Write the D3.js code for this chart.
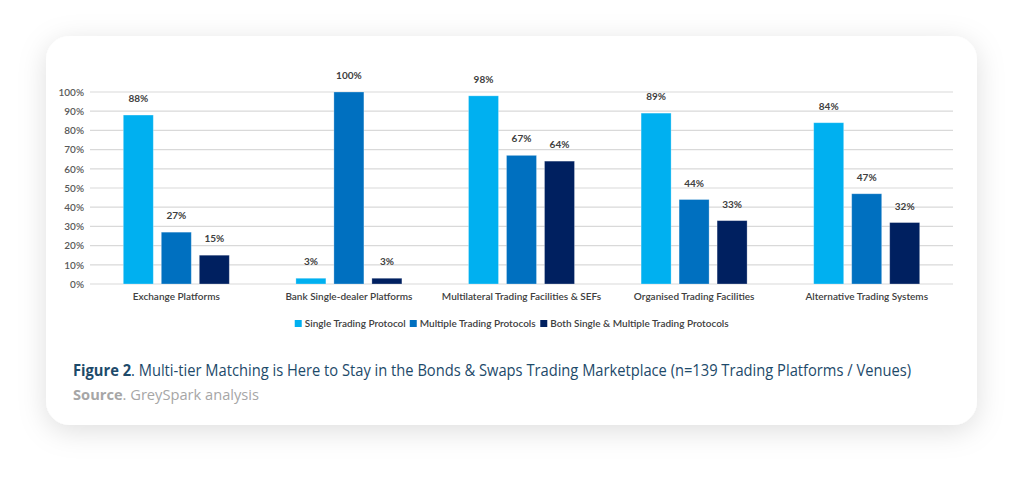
<!DOCTYPE html>
<html><head><meta charset="utf-8">
<script src="https://cdn.jsdelivr.net/npm/d3@7"></script>
<style>
html,body{margin:0;padding:0;background:#fff;}
svg{display:block;}
</style></head>
<body>
<svg id="c" width="1024" height="483"></svg>
<script>
const categories = ["Exchange Platforms","Bank Single-dealer Platforms","Multilateral Trading Facilities & SEFs","Organised Trading Facilities","Alternative Trading Systems"];
const seriesNames = ["Single Trading Protocol","Multiple Trading Protocols","Both Single & Multiple Trading Protocols"];
const singleVals = [88,3,98,89,84];
const multipleVals = [27,100,67,44,47];
const bothVals = [15,3,64,33,32];
const yTicks = [0,10,20,30,40,50,60,70,80,90,100];
const colors = ["#00b0f0","#0070c0","#002060"];

const svg = d3.select("#c");
const defs = svg.append("defs");
const f = defs.append("filter").attr("id","sh").attr("x","-10%").attr("y","-20%").attr("width","120%").attr("height","150%");
f.append("feDropShadow").attr("dx",0).attr("dy",6).attr("stdDeviation",14).attr("flood-color","#000").attr("flood-opacity",0.13);

svg.append("rect").attr("x",46).attr("y",36).attr("width",931).attr("height",389).attr("rx",24)
  .attr("fill","#fff").attr("filter","url(#sh)");

const FONT = "Lato, 'Open Sans', sans-serif";
const L=90,R=953,T=92,B=284;
const x0 = d3.scaleBand().domain(categories).range([L,R]);
const y = d3.scaleLinear().domain([0,100]).range([B,T]);
const x1 = d3.scaleBand().domain(seriesNames).range([0,106]).paddingInner(8/38);

const g = svg.append("g");
g.selectAll("line.grid").data(yTicks).join("line").attr("class","grid")
  .attr("x1",L).attr("x2",R).attr("y1",d=>y(d)).attr("y2",d=>y(d))
  .attr("stroke","#d9d9d9").attr("stroke-width",1.2);

const yAxis = d3.axisLeft(y).tickValues(yTicks).tickFormat(d=>d+"%").tickSize(0).tickPadding(6);
const ya = g.append("g").attr("transform",`translate(${L},0)`).call(yAxis);
ya.select(".domain").remove();
ya.selectAll("text").attr("font-family",FONT).attr("font-size",10).attr("font-weight",600).attr("fill","#595959");

const allVals = [singleVals,multipleVals,bothVals];
const data = categories.map((c,i)=>({cat:c, vals:seriesNames.map((s,j)=>({s, j, v:allVals[j][i]}))}));
const grp = g.selectAll("g.grp").data(data).join("g").attr("class","grp")
  .attr("transform",d=>`translate(${x0(d.cat)+x0.bandwidth()/2-53},0)`);
grp.selectAll("rect").data(d=>d.vals).join("rect")
  .attr("x",d=>x1(d.s)).attr("width",x1.bandwidth())
  .attr("y",d=>y(d.v)).attr("height",d=>B-y(d.v))
  .attr("fill",d=>colors[d.j]).attr("stroke","rgba(255,255,255,0.35)").attr("stroke-width",0.8);
grp.selectAll("text").data(d=>d.vals).join("text")
  .attr("x",d=>x1(d.s)+x1.bandwidth()/2).attr("y",d=>y(d.v)-13)
  .attr("text-anchor","middle").attr("font-family",FONT)
  .attr("font-size",10).attr("font-weight",700).attr("fill","#404040").text(d=>d.v+"%");

const xAxis = d3.axisBottom(x0).tickSize(0).tickPadding(9);
const xa = g.append("g").attr("transform",`translate(0,${B})`).call(xAxis);
xa.select(".domain").remove();
xa.selectAll("text").attr("font-family",FONT).attr("font-size",10).attr("font-weight",600).attr("fill","#404040");

// legend
const leg = g.append("g").attr("transform","translate(0,326)");
const legItems = leg.selectAll("g").data(seriesNames).join("g");
legItems.append("rect").attr("width",7).attr("height",7).attr("y",-6).attr("fill",(d,i)=>colors[i]);
legItems.append("text").attr("x",10).attr("y",0.5).attr("font-family",FONT)
  .attr("font-size",10).attr("font-weight",600).attr("fill","#404040").text(d=>d);
let xpos=0; const widths=[];
legItems.each(function(){const w=this.getBBox().width; widths.push(w);});
const totalW = d3.sum(widths)+4*(widths.length-1);
xpos = 512 - totalW/2;
legItems.attr("transform",(d,i)=>{const t=`translate(${xpos},0)`; xpos+=widths[i]+4; return t;});

// caption
const cap = svg.append("text").attr("x",73).attr("y",376).attr("font-family","'Open Sans', Lato, sans-serif")
  .attr("font-size",16).attr("fill","#1d4a6a").attr("textLength",838).attr("lengthAdjust","spacingAndGlyphs");
cap.append("tspan").attr("font-weight",700).text("Figure 2");
cap.append("tspan").text(". Multi-tier Matching is Here to Stay in the Bonds & Swaps Trading Marketplace (n=139 Trading Platforms / Venues)");
const src = svg.append("text").attr("x",73).attr("y",400).attr("font-family","'Open Sans', Lato, sans-serif")
  .attr("font-size",15).attr("fill","#a6a6a6").attr("textLength",186).attr("lengthAdjust","spacingAndGlyphs");
src.append("tspan").attr("font-weight",700).text("Source");
src.append("tspan").text(". GreySpark analysis");
</script>
</body></html>
